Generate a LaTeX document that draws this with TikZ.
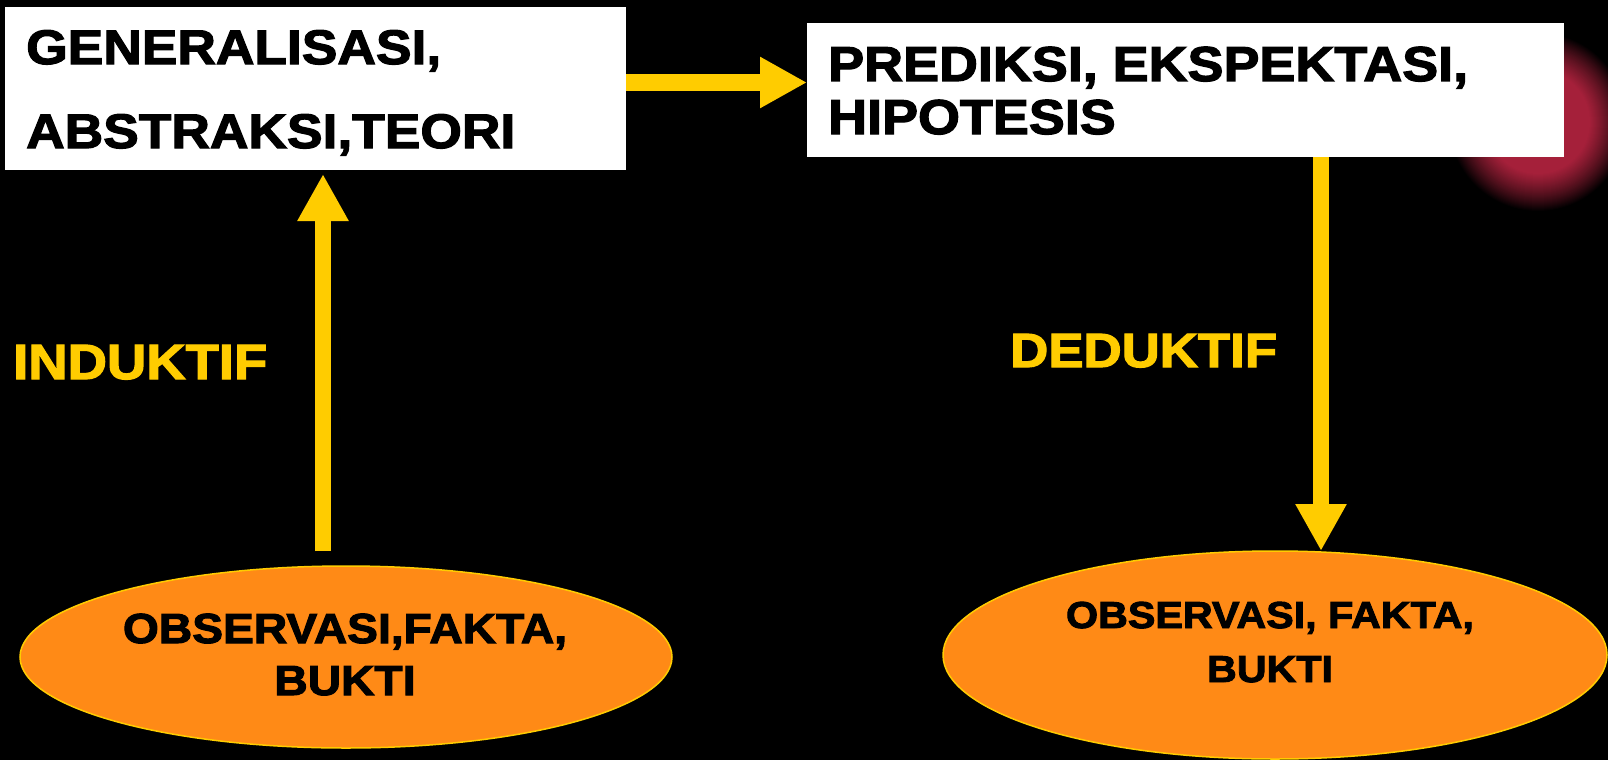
\documentclass[tikz,border=0pt]{standalone}
\usepackage{fontspec}
\newfontfamily\hfont[FakeStretch=1.1,FakeBold=2.5]{Liberation Sans}
\usetikzlibrary{arrows.meta,shapes.geometric}
\definecolor{ayellow}{RGB}{255,204,0}
\definecolor{aorange}{RGB}{255,138,22}
\definecolor{gred}{RGB}{165,32,58}
\begin{document}
\begin{tikzpicture}[x=1pt,y=-1pt,
  whitebox/.style={rectangle, fill=white, inner sep=0pt, outer sep=0pt},
  obsell/.style={ellipse, fill=aorange, draw=ayellow, line width=1.5pt, inner sep=0pt, outer sep=0pt},
  bigarrow/.style={draw=ayellow, line width=16pt, -{Triangle[width=48pt,length=47pt]}},
  boxtext/.style={anchor=base west, inner sep=0pt, text=black, font=\hfont\bfseries\fontsize{48.5}{58}\selectfont},
  boxtextb/.style={anchor=base west, inner sep=0pt, text=black, font=\hfont\bfseries\fontsize{49}{58}\selectfont},
  labeltext/.style={anchor=base west, inner sep=0pt, text=ayellow, font=\hfont\bfseries\fontsize{49.5}{58}\selectfont},
  labeltextb/.style={anchor=base west, inner sep=0pt, text=ayellow, font=\hfont\bfseries\fontsize{48}{58}\selectfont},
  elltext/.style={anchor=base, inner sep=0pt, text=black, font=\hfont\bfseries\fontsize{42}{50}\selectfont},
  elltextb/.style={anchor=base, inner sep=0pt, text=black, font=\hfont\bfseries\fontsize{37.5}{45}\selectfont}]
\useasboundingbox (0,0) rectangle (1608,760);
\fill[black] (0,0) rectangle (1608,760);
% glow
\foreach \r in {90,89,...,1}{
  \pgfmathsetmacro\p{min(100,150*(1-(\r/90)^2))}
  \fill[gred!\p!black] (1538,122) circle (\r);
}
% boxes
\node[whitebox, minimum width=621pt, minimum height=163pt] (box1) at (315.5,88.5) {};
\node[whitebox, minimum width=757pt, minimum height=134pt] (box2) at (1185.5,90) {};
% ellipses
\node[obsell, minimum width=652pt, minimum height=182pt] (obs1) at (346,657) {};
\node[obsell, minimum width=664pt, minimum height=208pt] (obs2) at (1275,655) {};
% arrows
\coordinate (hy) at (0,82.5);
\coordinate (indbot) at (323,551);
\coordinate (dedx) at (1321,0);
\draw[bigarrow, line width=17pt] (box1.east |- hy) -- (box2.west |- hy);
\draw[bigarrow, shorten >=4pt] (indbot) -- (box1.south -| indbot);
\draw[bigarrow] (box2.south -| dedx) -- (obs2.north -| dedx);
% texts
\node[boxtext] (t1a) at (26,64) {GENERALISASI,};
\node[boxtext] (t1b) at (26,148) {ABSTRAKSI,TEORI};
\node[boxtextb] (t2a) at (828,81) {PREDIKSI, EKSPEKTASI,};
\node[boxtextb] (t2b) at (828,134) {HIPOTESIS};
\node[labeltext] (ind) at (13,379) {INDUKTIF};
\node[labeltextb] (ded) at (1010,367) {DEDUKTIF};
\node[elltext] (o1a) at (345,643) {OBSERVASI,FAKTA,};
\node[elltext] (o1b) at (345,695) {BUKTI};
\node[elltextb] (o2a) at (1270,628) {OBSERVASI, FAKTA,};
\node[elltextb] (o2b) at (1270,682) {BUKTI};
\end{tikzpicture}
\end{document}
